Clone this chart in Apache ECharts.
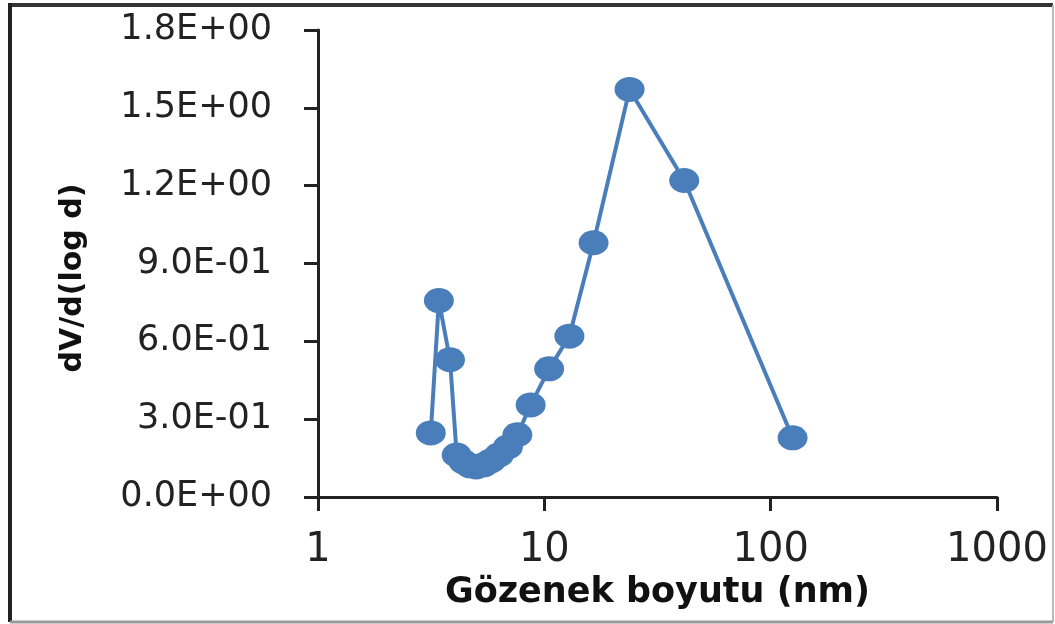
<!DOCTYPE html>
<html>
<head>
<meta charset="utf-8">
<script src="https://cdn.jsdelivr.net/npm/echarts@6/dist/echarts.min.js"></script>
<style>
  html, body { margin: 0; padding: 0; background: #fff; }
  #chart { width: 1055px; height: 624px; }
</style>
</head>
<body>
<div id="chart"></div>
<script>
// pore size (nm) and dV/d(log d)
var poreSize = [3.15, 3.42, 3.83, 4.1, 4.4, 4.7, 5.0, 5.4, 5.8, 6.3, 6.9, 7.6, 8.7, 10.5, 12.9, 16.5, 23.8, 41.5, 125];
var dvValues = [0.247, 0.757, 0.529, 0.162, 0.135, 0.12, 0.116, 0.124, 0.139, 0.162, 0.193, 0.24, 0.355, 0.494, 0.62, 0.98, 1.571, 1.22, 0.228];
var yTicks = ['0.0E+00', '3.0E-01', '6.0E-01', '9.0E-01', '1.2E+00', '1.5E+00', '1.8E+00'];
var xTicks = ['1', '10', '100', '1000'];

var seriesData = [];
for (var i = 0; i < poreSize.length; i++) {
	seriesData.push([poreSize[i], dvValues[i]]);
}

var myChart = echarts.init(document.getElementById('chart'));
var option = {
	animation: false,
	backgroundColor: '#fff',
	grid: {
		left: 318,
		right: 58,
		top: 30,
		bottom: 127
	},
	xAxis: {
		type: 'log',
		logBase: 10,
		min: 1,
		max: 1000,
		name: 'Gözenek boyutu (nm)',
		nameLocation: 'middle',
		nameGap: 74,
		nameTextStyle: {
			fontFamily: 'DejaVu Sans',
			fontWeight: 'bold',
			fontSize: 35,
			color: '#111'
		},
		axisLine: { onZero: false, lineStyle: { color: '#222', width: 3 } },
		axisTick: { show: true, inside: false, length: 14, lineStyle: { color: '#222', width: 3 } },
		minorTick: { show: false },
		axisLabel: {
			margin: 34,
			fontFamily: 'DejaVu Sans',
			fontSize: 40,
			color: '#222',
			formatter: function (v) {
				return xTicks[Math.round(Math.log(v) / Math.LN10)];
			}
		},
		splitLine: { show: false }
	},
	yAxis: {
		type: 'value',
		min: 0,
		max: 1.8,
		interval: 0.3,
		axisLine: { show: true, lineStyle: { color: '#222', width: 3 } },
		axisTick: { show: true, inside: false, length: 14, lineStyle: { color: '#222', width: 3 } },
		axisLabel: {
			margin: 46,
			fontFamily: 'DejaVu Sans',
			fontSize: 35,
			color: '#222',
			formatter: function (v) {
				return yTicks[Math.round(v / 0.3)];
			}
		},
		splitLine: { show: false }
	},
	graphic: [
		{
			type: 'text',
			rotation: Math.PI / 2,
			position: [73, 278],
			style: {
				text: 'dV/d(log d)',
				x: 0,
				y: 0,
				fontFamily: 'DejaVu Sans',
				fontWeight: 'bold',
				fontSize: 30,
				fill: '#111',
				align: 'center',
				verticalAlign: 'middle'
			}
		},
		// picture frame
		{ type: 'line', shape: { x1: 8, y1: 5, x2: 1053, y2: 5 }, style: { stroke: '#333', lineWidth: 4 } },
		{ type: 'line', shape: { x1: 10, y1: 3, x2: 10, y2: 622 }, style: { stroke: '#222', lineWidth: 4 } },
		{ type: 'line', shape: { x1: 1053, y1: 5, x2: 1053, y2: 622 }, style: { stroke: '#bbb', lineWidth: 2 } },
		{ type: 'line', shape: { x1: 10, y1: 622, x2: 1053, y2: 622 }, style: { stroke: '#999', lineWidth: 3 } }
	],
	series: [
		{
			type: 'line',
			data: seriesData,
			symbol: 'circle',
			symbolSize: [30, 25],
			showAllSymbol: true,
			lineStyle: { color: '#4a7ebb', width: 4 },
			itemStyle: { color: '#4a7ebb' }
		}
	]
};
myChart.setOption(option);
</script>
</body>
</html>
